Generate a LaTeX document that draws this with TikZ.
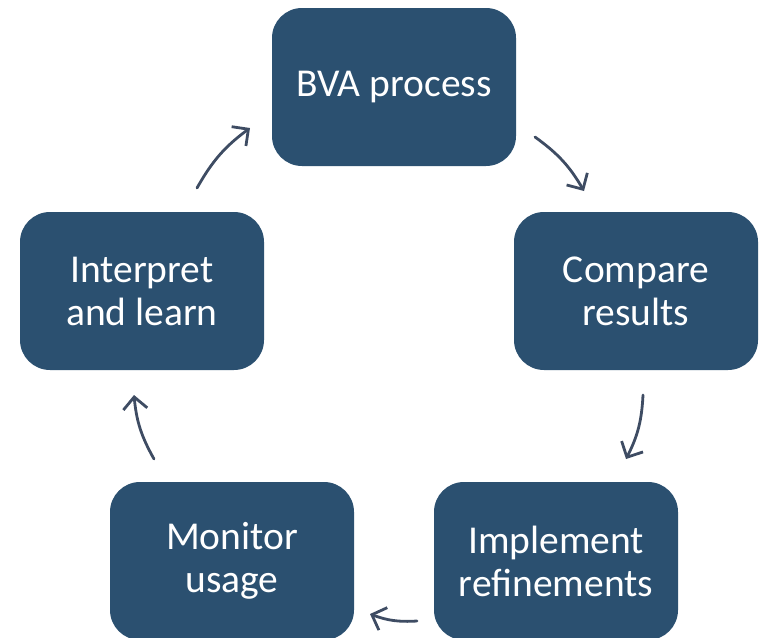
\documentclass[tikz,border=0pt]{standalone}
\usepackage{fontspec}
\setmainfont{Carlito}
\usetikzlibrary{arrows.meta}
\definecolor{boxblue}{HTML}{2B5070}
\definecolor{arrowslate}{HTML}{3E4C63}
\begin{document}
\begin{tikzpicture}[x=1pt,y=-1pt,
  stagebox/.style={rectangle, rounded corners=30pt, fill=boxblue, draw=none,
    minimum width=244pt, minimum height=158pt, inner sep=0pt,
    text=white, align=center,
    font=\fontsize{39.5pt}{43pt}\selectfont},
  cyclearrow/.style={draw=arrowslate, line width=2.8pt, line cap=round,
    -{Straight Barb[length=12pt,width=24pt,line width=2.8pt]}, bend left=12}]
  \useasboundingbox (0,0) rectangle (759,637);

  % process stages
  \node[stagebox] (bva)       at (394,87)  {BVA process};
  \node[stagebox] (compare)   at (636,291) {Compare\\results};
  \node[stagebox] (implement) at (556,561) {Implement\\refinements};
  \node[stagebox] (monitor)   at (232,561) {Monitor\\usage};
  \node[stagebox] (interpret) at (142,291) {Interpret\\and learn};

  % arrow end points in the gaps between stages
  \coordinate (a1s) at (535,137);  \coordinate (a1e) at (584,191);
  \coordinate (a2s) at (643,395);  \coordinate (a2e) at (626,459);
  \coordinate (a3s) at (417,621);  \coordinate (a3e) at (370,614);
  \coordinate (a4s) at (154,459);  \coordinate (a4e) at (134,395);
  \coordinate (a5s) at (197,188);  \coordinate (a5e) at (250,128);

  % clockwise cycle arrows
  \draw[cyclearrow] (a1s) to (a1e);
  \draw[cyclearrow] (a2s) to (a2e);
  \draw[cyclearrow] (a3s) to (a3e);
  \draw[cyclearrow] (a4s) to (a4e);
  \draw[cyclearrow] (a5s) to (a5e);
\end{tikzpicture}
\end{document}
